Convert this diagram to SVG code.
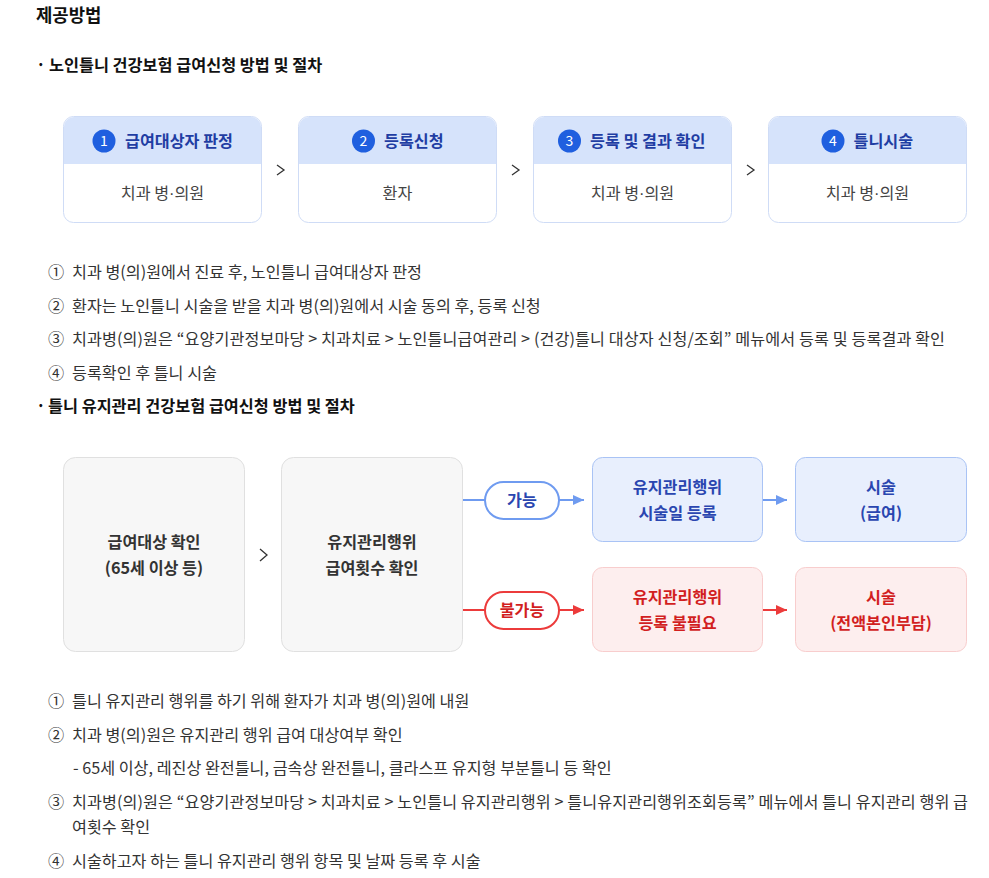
<svg xmlns="http://www.w3.org/2000/svg" width="989" height="878" viewBox="0 0 989 878">
<style>
text{font-family:"Noto Sans CJK KR","Noto Sans",sans-serif;}
.h1{font-size:17.8px;font-weight:700;fill:#111;}
.h2{font-size:16.3px;font-weight:700;fill:#111;}
.li{font-size:16.2px;fill:#333;}
.hd{font-size:16.2px;font-weight:700;fill:#1f3da3;}
.num{font-size:14px;fill:#fff;text-anchor:middle;}
.bd{font-size:16.2px;fill:#444;text-anchor:middle;}
.dot{font-family:"Liberation Sans",sans-serif;}
.card{fill:#fff;stroke:#cfdcf6;stroke-width:1;}
.band{fill:#d6e3fb;}
.circ{fill:#1f5fdf;}
.chev{fill:none;stroke:#333;stroke-width:1.3;}
.gray{fill:#f7f7f7;stroke:#e0e0e0;stroke-width:1;}
.gt{font-size:16.2px;font-weight:700;fill:#333;text-anchor:middle;}
.bbox{fill:#e8effd;stroke:#a9c3f5;stroke-width:1;}
.bt{font-size:16.2px;font-weight:700;fill:#2a46b0;text-anchor:middle;}
.rbox{fill:#fdeeee;stroke:#f8cdcd;stroke-width:1;}
.rt{font-size:16.2px;font-weight:700;fill:#d21f1f;text-anchor:middle;}
.bl{stroke:#6f9bf0;stroke-width:2;fill:none;}
.rl{stroke:#ec3b3b;stroke-width:2;fill:none;}
.bp{fill:#fff;stroke:#6f9bf0;stroke-width:2;}
.rp{fill:#fff;stroke:#ec3b3b;stroke-width:2;}
</style>
<defs>
<marker id="ab" markerWidth="11" markerHeight="10" refX="11" refY="5" orient="auto" markerUnits="userSpaceOnUse"><path d="M0,0 L11,5 L0,10 Z" fill="#6f9bf0"/></marker>
<marker id="ar" markerWidth="11" markerHeight="10" refX="11" refY="5" orient="auto" markerUnits="userSpaceOnUse"><path d="M0,0 L11,5 L0,10 Z" fill="#ec3b3b"/></marker>
</defs>
<rect width="989" height="878" fill="#fff"/>

<text class="h1" x="36" y="22">제공방법</text>
<text class="h2" x="36" y="71">·</text>
<text class="h2" x="49" y="71">노인틀니 건강보험 급여신청 방법 및 절차</text>

<g id="step1">
<rect class="card" x="63.5" y="116.5" width="198" height="106" rx="10"/>
<path class="band" d="M64,164 V126.5 A10,10 0 0 1 74,117 H251 A10,10 0 0 1 261,126.5 V164 Z"/>
<circle class="circ" cx="104" cy="141" r="11.5"/>
<text class="num" x="104" y="146">1</text>
<text class="hd" x="125" y="146.5">급여대상자 판정</text>
<text class="bd" x="162.5" y="198.5">치과 병<tspan class="dot">·</tspan>의원</text>
</g>
<g id="step2">
<rect class="card" x="298.5" y="116.5" width="198" height="106" rx="10"/>
<path class="band" d="M299,164 V126.5 A10,10 0 0 1 309,117 H486 A10,10 0 0 1 496,126.5 V164 Z"/>
<circle class="circ" cx="363.5" cy="141" r="11.5"/>
<text class="num" x="363.5" y="146">2</text>
<text class="hd" x="384" y="146.5">등록신청</text>
<text class="bd" x="397.5" y="198.5">환자</text>
</g>
<g id="step3">
<rect class="card" x="533.5" y="116.5" width="198" height="106" rx="10"/>
<path class="band" d="M534,164 V126.5 A10,10 0 0 1 544,117 H721 A10,10 0 0 1 731,126.5 V164 Z"/>
<circle class="circ" cx="569.5" cy="141" r="11.5"/>
<text class="num" x="569.5" y="146">3</text>
<text class="hd" x="590" y="146.5">등록 및 결과 확인</text>
<text class="bd" x="632.5" y="198.5">치과 병<tspan class="dot">·</tspan>의원</text>
</g>
<g id="step4">
<rect class="card" x="768.5" y="116.5" width="198" height="106" rx="10"/>
<path class="band" d="M769,164 V126.5 A10,10 0 0 1 779,117 H956 A10,10 0 0 1 966,126.5 V164 Z"/>
<circle class="circ" cx="833" cy="141" r="11.5"/>
<text class="num" x="833" y="146">4</text>
<text class="hd" x="853.5" y="146.5">틀니시술</text>
<text class="bd" x="867.5" y="198.5">치과 병<tspan class="dot">·</tspan>의원</text>
</g>

<g id="connectors">
<polyline class="chev" points="277,165 284,170 277,175"/>
<polyline class="chev" points="512,165 519,170 512,175"/>
<polyline class="chev" points="747,165 754,170 747,175"/>
<polyline class="chev" points="260,549 267,555 260,561"/>
<line class="bl" x1="463" y1="500" x2="485" y2="500"/>
<line class="bl" x1="559" y1="500" x2="584" y2="500" marker-end="url(#ab)"/>
<line class="bl" x1="763" y1="500" x2="787" y2="500" marker-end="url(#ab)"/>
<line class="rl" x1="463" y1="610" x2="485" y2="610"/>
<line class="rl" x1="559" y1="610" x2="584" y2="610" marker-end="url(#ar)"/>
<line class="rl" x1="763" y1="610" x2="787" y2="610" marker-end="url(#ar)"/>
</g>

<g class="li">
<text x="48" y="278">①</text><text x="72" y="278">치과 병(의)원에서 진료 후, 노인틀니 급여대상자 판정</text>
<text x="48" y="312">②</text><text x="72" y="312">환자는 노인틀니 시술을 받을 치과 병(의)원에서 시술 동의 후, 등록 신청</text>
<text x="48" y="345">③</text><text x="72" y="345" textLength="873" lengthAdjust="spacing">치과병(의)원은 “요양기관정보마당 &gt; 치과치료 &gt; 노인틀니급여관리 &gt; (건강)틀니 대상자 신청/조회” 메뉴에서 등록 및 등록결과 확인</text>
<text x="48" y="379">④</text><text x="72" y="379">등록확인 후 틀니 시술</text>
</g>

<text class="h2" x="36" y="412">·</text>
<text class="h2" x="48" y="412">틀니 유지관리 건강보험 급여신청 방법 및 절차</text>

<g id="check-target">
<rect class="gray" x="63.5" y="457.5" width="181" height="194" rx="12"/>
<text class="gt" x="154" y="548">급여대상 확인</text>
<text class="gt" x="154" y="574">(65세 이상 등)</text>
</g>
<g id="check-count">
<rect class="gray" x="281.5" y="457.5" width="181" height="194" rx="12"/>
<text class="gt" x="372" y="548">유지관리행위</text>
<text class="gt" x="372" y="574">급여횟수 확인</text>
</g>
<g id="possible">
<rect class="bp" x="485" y="482" width="74" height="37" rx="18.5"/>
<text class="bt" x="522" y="506">가능</text>
</g>
<g id="impossible">
<rect class="rp" x="485" y="592" width="74" height="37" rx="18.5"/>
<text class="rt" x="522" y="616">불가능</text>
</g>
<g id="register">
<rect class="bbox" x="592.5" y="457.5" width="170" height="84" rx="10"/>
<text class="bt" x="677.5" y="492.5">유지관리행위</text>
<text class="bt" x="677.5" y="518.5">시술일 등록</text>
</g>
<g id="treat-covered">
<rect class="bbox" x="795.5" y="457.5" width="171" height="84" rx="10"/>
<text class="bt" x="881" y="492.5">시술</text>
<text class="bt" x="881" y="518.5">(급여)</text>
</g>
<g id="no-register">
<rect class="rbox" x="592.5" y="567.5" width="170" height="84" rx="10"/>
<text class="rt" x="677.5" y="602.5">유지관리행위</text>
<text class="rt" x="677.5" y="628.5">등록 불필요</text>
</g>
<g id="treat-self">
<rect class="rbox" x="795.5" y="567.5" width="171" height="84" rx="10"/>
<text class="rt" x="881" y="602.5">시술</text>
<text class="rt" x="881" y="628.5">(전액본인부담)</text>
</g>

<g class="li">
<text x="48" y="707">①</text><text x="72" y="707">틀니 유지관리 행위를 하기 위해 환자가 치과 병(의)원에 내원</text>
<text x="48" y="741">②</text><text x="72" y="741">치과 병(의)원은 유지관리 행위 급여 대상여부 확인</text>
<text x="73" y="774">- 65세 이상, 레진상 완전틀니, 금속상 완전틀니, 클라스프 유지형 부분틀니 등 확인</text>
<text x="48" y="808">③</text><text x="72" y="808" textLength="896" lengthAdjust="spacing">치과병(의)원은 “요양기관정보마당 &gt; 치과치료 &gt; 노인틀니 유지관리행위 &gt; 틀니유지관리행위조회등록” 메뉴에서 틀니 유지관리 행위 급</text>
<text x="72" y="833">여횟수 확인</text>
<text x="48" y="867">④</text><text x="72" y="867">시술하고자 하는 틀니 유지관리 행위 항목 및 날짜 등록 후 시술</text>
</g>
</svg>
